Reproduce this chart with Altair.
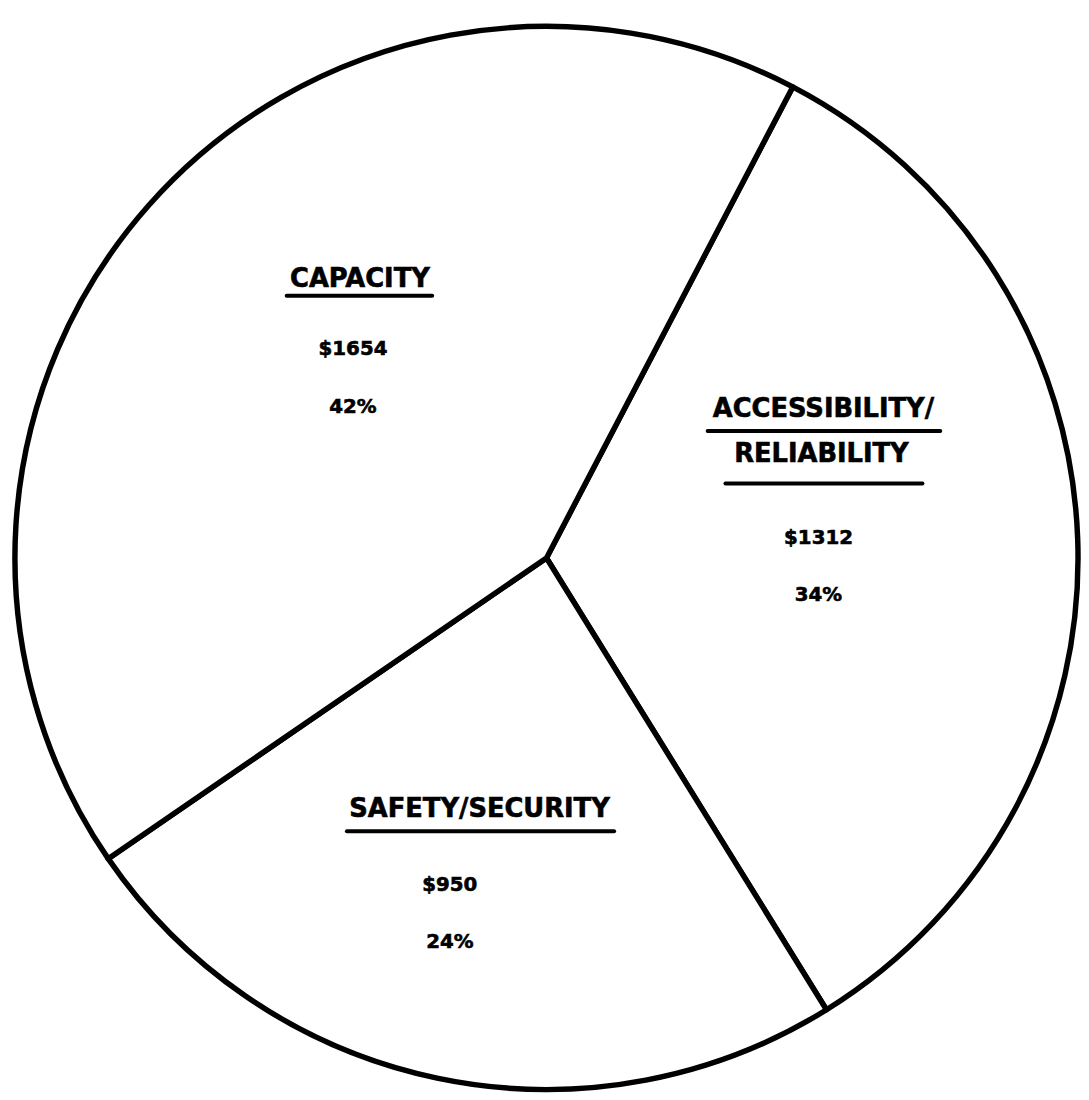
import math
import altair as alt
import pandas as pd

# ---- data ----
categories = ["Accessibility/Reliability", "Safety/Security", "Capacity"]
title_line1 = ["ACCESSIBILITY/", "SAFETY/SECURITY", "CAPACITY"]
title_line2 = ["RELIABILITY", "", ""]
amounts = [1312, 950, 1654]
amount_labels = ["$1312", "$950", "$1654"]
percent_labels = ["34%", "24%", "42%"]

df = pd.DataFrame({
    "category": categories,
    "line1": title_line1,
    "line2": title_line2,
    "amount": amounts,
    "amount_label": amount_labels,
    "percent_label": percent_labels,
    "idx": list(range(len(categories))),
})

# ---- layout / style ----
CX, CY = 544, 550          # pie centre inside the view
R = 537                    # pie radius
LR = 280                   # label anchor radius
OFFSET = math.radians(27.6)  # start angle of first slice (clockwise from 12 o'clock)
FONT = "DejaVu Sans"

arc = alt.Chart(df).mark_arc(
    radius=R, fill="white", stroke="black", strokeWidth=5.5, strokeJoin="round"
).encode(
    theta=alt.Theta("amount:Q", stack=True,
                    scale=alt.Scale(range=[OFFSET, OFFSET + 2 * math.pi])),
    order=alt.Order("idx:Q"),
    x=alt.value(CX),
    y=alt.value(CY),
)

lab = (
    alt.Chart(df)
    .transform_joinaggregate(total="sum(amount)")
    .transform_window(cum="sum(amount)", sort=[alt.SortField("idx", order="ascending")],
                      frame=[None, 0])
    .transform_calculate(ang=f"{OFFSET} + 2*PI*(datum.cum - datum.amount/2)/datum.total")
    .transform_calculate(ax=f"{CX} + {LR}*sin(datum.ang)",
                         ay=f"{CY} - {LR}*cos(datum.ang)")
)


def txt(cat, field, dx, dy, size):
    return lab.transform_filter(alt.datum.category == cat).mark_text(
        dx=dx, dy=dy, fontSize=size, fontWeight="bold", font=FONT, color="black",
        stroke="black", strokeWidth=0.6, align="center", baseline="middle"
    ).encode(
        x=alt.X("ax:Q", scale=None, axis=None),
        y=alt.Y("ay:Q", scale=None, axis=None),
        text=alt.Text(f"{field}:N"),
    )


def uline(cat, x1, x2, dy):
    return lab.transform_filter(alt.datum.category == cat).mark_rule(
        xOffset=x1, x2Offset=x2, yOffset=dy, strokeWidth=4, color="black",
        strokeCap="round"
    ).encode(
        x=alt.X("ax:Q", scale=None, axis=None),
        x2="ax:Q",
        y=alt.Y("ay:Q", scale=None, axis=None),
    )


TS = 26   # title font size
VS = 20   # value font size

layers = [
    arc,
    # Capacity
    txt("Capacity", "line1", 21, -96, TS),
    uline("Capacity", -53, 94, -79),
    txt("Capacity", "amount_label", 14, -25, VS),
    txt("Capacity", "percent_label", 14, 33, VS),
    # Accessibility / Reliability
    txt("Accessibility/Reliability", "line1", 0, -140, TS),
    uline("Accessibility/Reliability", -117, 118, -118),
    txt("Accessibility/Reliability", "line2", -2, -95, TS),
    uline("Accessibility/Reliability", -99, 100, -65),
    txt("Accessibility/Reliability", "amount_label", -5, -10, VS),
    txt("Accessibility/Reliability", "percent_label", -5, 48, VS),
    # Safety / Security
    txt("Safety/Security", "line1", -10, -20, TS),
    uline("Safety/Security", -144, 126, 2),
    txt("Safety/Security", "amount_label", -40, 56, VS),
    txt("Safety/Security", "percent_label", -40, 114, VS),
]

chart = alt.layer(*layers).properties(
    width=1078, height=1084, padding=0
).configure_view(strokeWidth=0)

chart.save("out.html", embed_options={"renderer": "svg", "actions": False})
